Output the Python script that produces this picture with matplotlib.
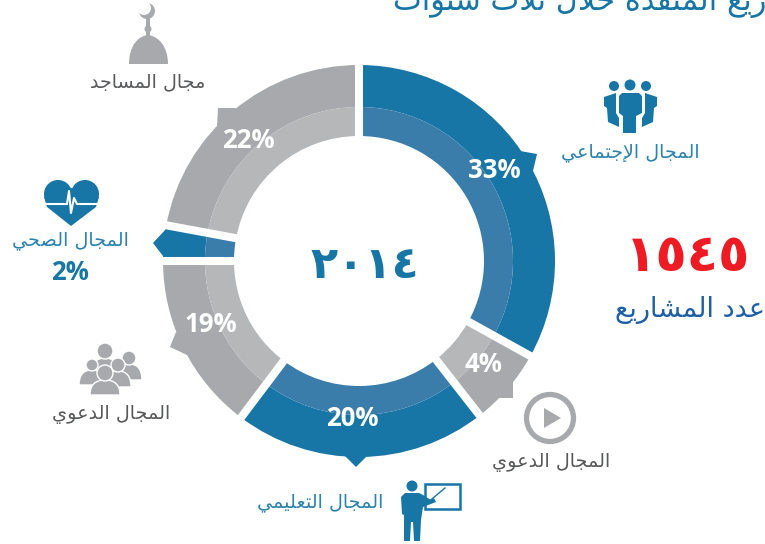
#!/usr/bin/env python
import matplotlib
matplotlib.use('Agg')
from matplotlib import pyplot as plt
from matplotlib import patches
from matplotlib.path import Path
import numpy as np

# drawn spans in degrees (the picture does not follow the printed percentages)
spans = [119, 23, 75, 53, 10.5, 79.5]
pct_labels = ['33%', '4%', '20%', '19%', '2%', '22%']
is_blue = [True, False, True, False, True, False]

title = 'المشاريع المنفذة خلال ثلاث سنوات'
year = '٢٠١٤'
projects = '١٥٤٥'
projects_label = 'عدد المشاريع'
lab_social = 'المجال الإجتماعي'
lab_mosque = 'مجال المساجد'
lab_health = 'المجال الصحي'
lab_dawa = 'المجال الدعوي'
lab_edu = 'المجال التعليمي'

BLUE = '#1776a5'
BLUE_L = '#3a7dab'
GRAY = '#a7a9ac'
GRAY_L = '#b5b7b9'
TXT_BLUE = '#2b83ae'
TXT_GRAY = '#58595b'

CX, CY = 359, 261
R_OUT, R_MID, R_IN = 196, 154, 125

# matplotlib does no arabic shaping, so pick presentation forms by hand
FOUR = {'ب': 0xFE8F, 'ت': 0xFE95, 'ث': 0xFE99, 'ج': 0xFE9D, 'ح': 0xFEA1, 'خ': 0xFEA5,
        'س': 0xFEB1, 'ش': 0xFEB5, 'ص': 0xFEB9, 'ع': 0xFEC9, 'ف': 0xFED1, 'ل': 0xFEDD,
        'م': 0xFEE1, 'ن': 0xFEE5, 'ي': 0xFEF1}
TWO = {'ا': 0xFE8D, 'إ': 0xFE87, 'د': 0xFEA9, 'ذ': 0xFEAB, 'ر': 0xFEAD, 'ة': 0xFE93, 'و': 0xFEED}
LAM_ALEF = {'ا': 0xFEFB, 'إ': 0xFEF9}


def shape(s):
    out = []
    i = 0
    prev_joins = False
    while i < len(s):
        c = s[i]
        nxt = s[i + 1] if i + 1 < len(s) else ''
        if c == 'ل' and nxt in LAM_ALEF:
            out.append(chr(LAM_ALEF[nxt] + (1 if prev_joins else 0)))
            prev_joins = False
            i += 2
            continue
        if c in TWO:
            out.append(chr(TWO[c] + (1 if prev_joins else 0)))
            prev_joins = False
        elif c in FOUR:
            next_ok = nxt in FOUR or nxt in TWO
            form = {(False, False): 0, (True, False): 1, (False, True): 2, (True, True): 3}[(prev_joins, next_ok)]
            out.append(chr(FOUR[c] + form))
            prev_joins = next_ok
        else:
            out.append(c)
            prev_joins = False
        i += 1
    return ''.join(reversed(out))


fig = plt.figure(figsize=(7.65, 5.44), dpi=100)
ax = fig.add_axes([0, 0, 1, 1])
cols_out = [BLUE if b else GRAY for b in is_blue]
cols_in = [BLUE_L if b else GRAY_L for b in is_blue]

# y axis is inverted below, so counterclock here reads clockwise on screen
ax.pie(spans, colors=cols_out, startangle=-90, counterclock=True, center=(CX, CY),
       radius=R_OUT, wedgeprops=dict(width=R_OUT - R_MID, linewidth=0))
ax.pie(spans, colors=cols_in, startangle=-90, counterclock=True, center=(CX, CY),
       radius=R_MID, wedgeprops=dict(width=R_MID - R_IN, linewidth=0))
ax.set_xlim(0, 765)
ax.set_ylim(544, 0)
ax.axis('off')

# gaps between slices
for a in np.cumsum([0] + spans[:-1]):
    t = np.radians(a - 90)
    ax.plot([CX + 115 * np.cos(t), CX + 200 * np.cos(t)], [CY + 115 * np.sin(t), CY + 200 * np.sin(t)],
            color='white', lw=5.8, solid_capstyle='butt', zorder=3)

# little pointers on the rim
tips = [([520, 537, 533, 522], [151, 154, 171, 168], BLUE),
        ([513, 513, 498, 488, 500], [380, 398, 398, 405, 385], GRAY),
        ([345, 356, 367], [456, 467, 456], BLUE),
        ([176, 170, 187, 190], [332, 347, 355, 340], GRAY),
        ([166, 153, 163, 175], [229, 243, 256, 245], BLUE),
        ([236, 218, 217, 230], [108, 108, 126, 125], GRAY)]
for xs, ys, c in tips:
    ax.fill(xs, ys, color=c, lw=0, zorder=2)

pct_font = dict(family='Open Sans', weight='bold', fontsize=18.5, ha='center', va='center', zorder=5)
pct_pos = [(494, 170), (483, 365), (352, 418), (211, 324), (70, 272), (248, 141)]
for lab, (x, y) in zip(pct_labels, pct_pos):
    ax.text(x, y, lab, color=BLUE if lab == '2%' else 'white', **pct_font)


def arabic(x, y, s, color, size=13.8, **kw):
    ax.text(x, y, shape(s), color=color, fontsize=size, family='DejaVu Sans',
            ha='center', va='center', zorder=5, **kw)


arabic(148, 82, lab_mosque, TXT_GRAY)
arabic(70, 240, lab_health, TXT_BLUE)
arabic(111, 415, lab_dawa, TXT_GRAY)
arabic(551, 462, lab_dawa, TXT_GRAY)
arabic(320, 502, lab_edu, TXT_BLUE)
arabic(630, 152, lab_social, TXT_BLUE)
arabic(690, 310, projects_label, '#1f5fa6', size=19.5)
ax.text(393, 2, shape(title), color=BLUE, fontsize=22, family='DejaVu Sans', ha='left', va='center', zorder=5)

ax.text(365, 265, year, color=BLUE, fontsize=32, weight='bold', family='DejaVu Sans', ha='center', va='center')
ax.text(688, 257, projects, color='#ed1c24', fontsize=37, weight='bold', family='DejaVu Sans', ha='center', va='center')


# --- icons ---
def poly(pts, c, **kw):
    ax.add_patch(patches.Polygon(pts, closed=True, facecolor=c, lw=0, zorder=4, **kw))


def dot(x, y, r, c, **kw):
    ax.add_patch(patches.Circle((x, y), r, facecolor=c, zorder=kw.pop('zorder', 4), **{'lw': 0, **kw}))


# mosque dome
dome = Path([(129, 64), (129, 46), (138, 36), (148, 35), (158, 36), (168, 46), (168, 64), (129, 64)],
            [Path.MOVETO, Path.CURVE4, Path.CURVE4, Path.CURVE4, Path.CURVE4, Path.CURVE4, Path.CURVE4, Path.CLOSEPOLY])
ax.add_patch(patches.PathPatch(dome, facecolor=GRAY, lw=0, zorder=4))
poly([(146, 36), (150, 36), (150, 18), (146, 18)], GRAY)
dot(148, 29, 3.5, GRAY)
dot(147, 11, 8, GRAY)
dot(144, 8, 7, 'white', zorder=4.1)

# heart
dot(58, 194, 14, BLUE)
dot(85, 194, 14, BLUE)
poly([(44, 197), (71, 188), (99, 197), (96, 207), (71, 226), (47, 207)], BLUE)
ax.plot([44, 67, 69, 71, 74, 77, 99], [204, 204, 191, 213, 198, 204, 204], color='white', lw=1.5, zorder=4.2)

# three people
dot(614, 86, 5, BLUE)
dot(630, 85, 5.5, BLUE)
dot(646, 86, 5, BLUE)
poly([(619, 96), (622, 93), (639, 93), (642, 96), (642, 113), (636, 116), (636, 133), (623, 133), (623, 116), (619, 113)], BLUE)
poly([(604, 97), (616, 93), (616, 113), (619, 118), (619, 127), (608, 122), (607, 108), (604, 106)], BLUE)
poly([(657, 97), (645, 93), (645, 113), (642, 118), (642, 127), (653, 122), (654, 108), (657, 106)], BLUE)


# group of people
def person(x, y, r, w, h):
    top = y + r - 1
    body = Path([(x - w, top + h), (x - w, top), (x, top), (x + w, top), (x + w, top + h), (x - w, top + h)],
                [Path.MOVETO, Path.CURVE3, Path.CURVE3, Path.CURVE3, Path.CURVE3, Path.CLOSEPOLY])
    ax.add_patch(patches.PathPatch(body, facecolor=GRAY, edgecolor='white', lw=1, zorder=4))
    dot(x, y, r, GRAY, edgecolor='white', lw=1)


person(105, 351, 8, 13, 14)
person(129, 358, 7, 13, 16)
person(92, 365, 6, 13, 15)
person(118, 365, 7, 13, 16)
person(105, 373, 8, 15, 15)

# play button
ax.add_patch(patches.Circle((550, 418), 23.5, facecolor='none', edgecolor=GRAY, lw=3.8, zorder=4))
poly([(544, 408), (561, 418), (544, 428)], GRAY)

# teacher and board
ax.add_patch(patches.Rectangle((425, 484), 35, 25, facecolor='none', edgecolor=BLUE, lw=1.8, zorder=4))
dot(412, 486, 5.5, BLUE)
poly([(401, 497), (405, 493), (419, 493), (423, 495), (431, 500), (434, 498), (436, 502), (423, 507),
      (421, 520), (420, 541), (414, 541), (413, 522), (411, 522), (410, 541), (404, 541), (404, 515), (402, 514)], BLUE)
ax.plot([426, 445], [504, 488], color=BLUE, lw=1, zorder=4)

plt.savefig('out.png', dpi=100)
